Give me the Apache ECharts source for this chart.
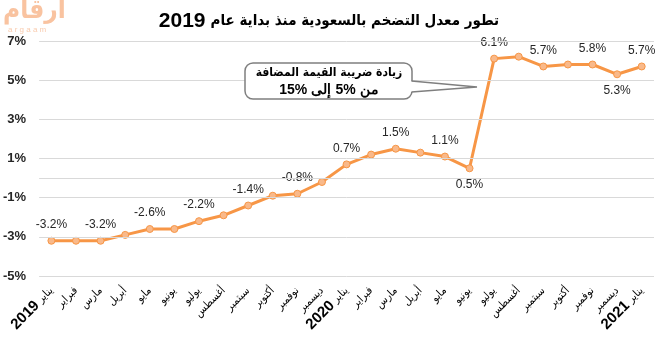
<!DOCTYPE html>
<html>
<head>
<meta charset="utf-8">
<script src="https://cdn.jsdelivr.net/npm/echarts@6/dist/echarts.min.js"></script>
<style>html,body{margin:0;padding:0;background:#fff}#c{width:658px;height:344px}</style>
</head>
<body>
<div id="c"></div>
<script>
var months = ['يناير','فبراير','مارس','أبريل','مايو','يونيو','يوليو','أغسطس','سبتمبر','أكتوبر','نوفمبر','ديسمبر',
              'يناير','فبراير','مارس','أبريل','مايو','يونيو','يوليو','أغسطس','سبتمبر','أكتوبر','نوفمبر','ديسمبر','يناير'];
var years = ['2019','','','','','','','','','','','','2020','','','','','','','','','','','','2021'];
var inflation = [-3.2,-3.2,-3.2,-2.9,-2.6,-2.6,-2.2,-1.9,-1.4,-0.9,-0.8,-0.2,
                 0.7,1.2,1.5,1.3,1.1,0.5,6.1,6.2,5.7,5.8,5.8,5.3,5.7];
var labelPlace = ['top','','top','','top','','top','','top','','top','',
                  'top','','top','','top','bottom','top','','top','','top','bottom','top'];
var yTicks = [-5,-3,-1,1,3,5,7];
var gridValues = [-5,-3,-1,0,1,3,5,7];
var titleText = 'تطور معدل التضخم بالسعودية منذ بداية عام';
var titleYear = '2019';
var noteLine1 = 'زيادة ضريبة القيمة المضافة';
// second note line, words in left-to-right drawing order
var noteLine2 = ['15%','إلى','5%','من'];

var categories = months.map(function(m,i){ return years[i] ? m + ' ' + years[i] : m; });
var chart = echarts.init(document.getElementById('c'));
var orange = '#F79646';
var arabicFont = "'DejaVu Sans Condensed', 'DejaVu Sans'";

var seriesData = inflation.map(function(v,i){
  var p = labelPlace[i];
  return {value: v, label: {show: !!p, position: p || 'top', distance: 6}};
});

chart.setOption({
  animation: false,
  backgroundColor: '#fff',
  title: {
    text: '{n|' + titleYear + '} {t|' + titleText + '}',
    left: 'center', top: 6,
    textStyle: {
      rich: {
        n: {fontFamily: 'Liberation Sans', fontWeight: 'bold', fontSize: 21, color: '#000'},
        t: {fontFamily: arabicFont, fontWeight: 'bold', fontSize: 15, color: '#000'}
      }
    }
  },
  grid: {left: 38, right: 4, top: 41, bottom: 68},
  xAxis: {
    type: 'category',
    data: categories,
    boundaryGap: true,
    axisLine: {show: false},
    axisTick: {show: false},
    axisLabel: {
      rotate: 45, interval: 0, margin: 13,
      formatter: function(v, i){
        var parts = v.split(' ');
        if (parts.length > 1) return '{y|' + parts[1] + '} {m|' + parts[0] + '}';
        return '{m|' + parts[0] + '}';
      },
      rich: {
        m: {fontFamily: arabicFont, fontSize: 11, color: '#000'},
        y: {fontFamily: 'Liberation Sans', fontWeight: 'bold', fontSize: 15, color: '#000'}
      }
    }
  },
  yAxis: {
    type: 'value', min: -5, max: 7, interval: 1,
    axisLine: {show: false}, axisTick: {show: false},
    splitLine: {show: false},
    axisLabel: {
      margin: 13,
      fontFamily: 'Liberation Sans', fontWeight: 'bold', fontSize: 13, color: '#262626',
      formatter: function(v){ return yTicks.indexOf(v) >= 0 ? v + '%' : ''; }
    }
  },
  series: [
    {
      type: 'line', data: [], z: 1, silent: true,
      markLine: {
        silent: true, symbol: 'none', animation: false,
        label: {show: false},
        lineStyle: {color: '#d9d9d9', width: 1, type: 'solid'},
        data: gridValues.map(function(v){ return {yAxis: v}; })
      }
    },
    {
      type: 'line', z: 3,
      data: seriesData,
      symbol: 'circle', symbolSize: 7,
      lineStyle: {color: orange, width: 3},
      itemStyle: {color: '#F9B98A', borderColor: orange, borderWidth: 1},
      label: {
        fontFamily: 'Liberation Sans', fontSize: 12, color: '#262626',
        formatter: function(p){ return p.value.toFixed(1) + '%'; }
      }
    }
  ],
  graphic: [
    {type: 'text', left: 3, top: -2, style: {text: 'أرقام', fontFamily: arabicFont, fontWeight: 'bold', fontSize: 26, fill: '#F9C3A0'}},
    {type: 'text', left: 8, top: 26, style: {text: 'a r g a a m', fontFamily: 'Liberation Sans', fontSize: 8, fill: '#F9CBAE'}},
    {type: 'rect', shape: {x: 245, y: 63, width: 167, height: 36, r: 8}, style: {fill: '#fff', stroke: '#7f7f7f', lineWidth: 1.5}, z: 10},
    {type: 'polygon', shape: {points: [[410,81],[477,87],[410,92]]}, style: {fill: '#fff'}, z: 11},
    {type: 'polyline', shape: {points: [[411.5,81],[477,87],[411.5,92]]}, style: {stroke: '#7f7f7f', lineWidth: 1.5, fill: null}, z: 12},
    {type: 'text', x: 329, y: 73, z: 13, style: {text: noteLine1, fontFamily: arabicFont, fontWeight: 'bold', fontSize: 12, fill: '#000', align: 'center', verticalAlign: 'middle'}},
    {type: 'text', x: 329, y: 90, z: 13, style: {
      text: noteLine2.map(function(t){ return '{b|' + t + '}'; }).join(' '),
      align: 'center', verticalAlign: 'middle',
      fontFamily: arabicFont, fontWeight: 'bold', fontSize: 13, fill: '#000',
      rich: {b: {fontFamily: 'Liberation Sans', fontWeight: 'bold', fontSize: 14, fill: '#000'}}
    }}
  ]
});
</script>
</body>
</html>
